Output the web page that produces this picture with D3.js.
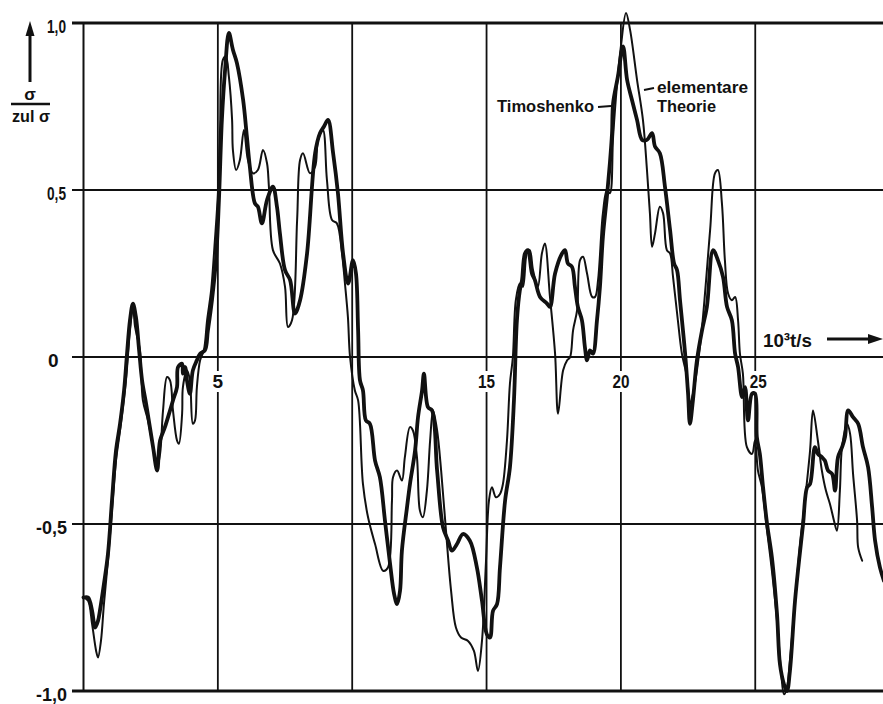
<!DOCTYPE html>
<html>
<head>
<meta charset="utf-8">
<script src="https://cdn.jsdelivr.net/npm/d3@7"></script>
<style>
  html, body { margin: 0; padding: 0; background: #fff; }
  svg { display: block; }
  text { font-family: "Liberation Sans", Arial, sans-serif; font-weight: bold; fill: #111; }
</style>
</head>
<body>
<svg id="chart" width="883" height="704"></svg>
<script>
// Stress ratio sigma / sigma_zul over time (10^3 t/s), two beam theories
const timoshenko = [
  [0.00,-0.72],[0.17,-0.72],[0.32,-0.76],[0.43,-0.81],[0.54,-0.79],[0.61,-0.76],[0.76,-0.68],[0.91,-0.59],
  [1.06,-0.43],[1.21,-0.28],[1.36,-0.20],[1.51,-0.10],[1.62,0.01],[1.73,0.11],[1.84,0.16],[1.95,0.12],
  [2.07,0.02],[2.18,-0.07],[2.33,-0.14],[2.47,-0.21],[2.59,-0.27],[2.74,-0.34],[2.85,-0.25],[3.03,-0.21],
  [3.22,-0.16],[3.33,-0.13],[3.48,-0.09],[3.52,-0.03],[3.67,-0.02],[3.70,-0.05],[3.78,-0.03],[3.85,-0.07],
  [3.96,-0.11],[4.07,-0.04],[4.22,-0.01],[4.34,0.01],[4.52,0.02],[4.63,0.08],[4.78,0.17],[4.93,0.29],
  [5.04,0.47],[5.15,0.71],[5.27,0.86],[5.41,0.97],[5.56,0.92],[5.71,0.88],[5.94,0.77],[6.08,0.66],
  [6.19,0.57],[6.38,0.46],[6.49,0.45],[6.64,0.40],[6.83,0.47],[7.05,0.51],[7.20,0.45],[7.31,0.37],
  [7.50,0.26],[7.69,0.23],[7.87,0.13],[8.06,0.17],[8.32,0.31],[8.62,0.61],[8.80,0.67],[8.95,0.69],
  [9.10,0.71],[9.29,0.61],[9.47,0.49],[9.66,0.31],[9.85,0.22],[10.03,0.29],[10.14,0.25],[10.22,0.08],
  [10.29,-0.07],[10.40,-0.10],[10.51,-0.19],[10.66,-0.20],[10.85,-0.31],[11.03,-0.36],[11.22,-0.49],[11.41,-0.62],
  [11.56,-0.71],[11.67,-0.74],[11.78,-0.70],[11.85,-0.58],[12.04,-0.45],[12.15,-0.38],[12.34,-0.28],[12.45,-0.18],
  [12.60,-0.10],[12.67,-0.05],[12.82,-0.15],[12.97,-0.16],[13.16,-0.34],[13.38,-0.51],[13.57,-0.55],[13.71,-0.58],
  [13.90,-0.56],[14.12,-0.53],[14.38,-0.55],[14.64,-0.63],[14.83,-0.73],[15.01,-0.83],[15.13,-0.84],[15.24,-0.76],
  [15.39,-0.74],[15.50,-0.63],[15.69,-0.43],[15.87,-0.33],[16.02,-0.13],[16.13,0.11],[16.24,0.20],[16.32,0.23],
  [16.43,0.31],[16.54,0.32],[16.69,0.25],[16.80,0.23],[16.99,0.18],[17.25,0.16],[17.36,0.15],[17.55,0.25],
  [17.81,0.31],[17.92,0.32],[18.03,0.28],[18.18,0.27],[18.29,0.21],[18.40,0.15],[18.55,0.11],[18.66,0.03],
  [18.74,-0.01],[18.85,0.02],[18.96,0.01],[19.11,0.11],[19.22,0.21],[19.33,0.36],[19.48,0.48],[19.59,0.58],
  [19.67,0.67],[19.71,0.76],[19.89,0.84],[20.08,0.93],[20.23,0.83],[20.41,0.77],[20.60,0.71],[20.79,0.65],
  [20.97,0.65],[21.16,0.67],[21.27,0.63],[21.45,0.61],[21.64,0.51],[21.83,0.38],[21.98,0.28],[22.09,0.26],
  [22.20,0.17],[22.39,0.01],[22.50,-0.11],[22.57,-0.20],[22.68,-0.13],[22.83,-0.01],[23.02,0.08],[23.20,0.15],
  [23.43,0.32],[23.61,0.29],[23.80,0.24],[23.95,0.15],[24.13,0.11],[24.25,0.01],[24.36,-0.03],[24.51,-0.12],
  [24.62,-0.09],[24.73,-0.19],[24.88,-0.11],[24.99,-0.11],[25.06,-0.24],[25.17,-0.29],[25.29,-0.39],[25.44,-0.50],
  [25.62,-0.60],[25.81,-0.77],[25.92,-0.92],[26.07,-0.98],[26.18,-1.00],[26.29,-0.94],[26.48,-0.73],[26.67,-0.58],
  [26.78,-0.50],[26.93,-0.39],[27.04,-0.38],[27.22,-0.27],[27.33,-0.29],[27.48,-0.30],[27.59,-0.31],[27.71,-0.34],
  [27.86,-0.35],[27.97,-0.40],[28.08,-0.30],[28.23,-0.27],[28.34,-0.24],[28.46,-0.16],[28.64,-0.18],[28.83,-0.20],
  [29.01,-0.27],[29.20,-0.33],[29.35,-0.45],[29.46,-0.55],[29.64,-0.63],[29.79,-0.67]
];

const elementare = [
  [0.00,-0.72],[0.17,-0.73],[0.32,-0.80],[0.47,-0.88],[0.54,-0.90],[0.65,-0.85],[0.76,-0.74],[0.91,-0.61],
  [1.06,-0.46],[1.21,-0.31],[1.36,-0.22],[1.58,-0.07],[1.73,0.08],[1.84,0.15],[1.92,0.09],[2.10,0.02],
  [2.21,-0.13],[2.40,-0.19],[2.59,-0.27],[2.74,-0.33],[2.85,-0.29],[2.96,-0.16],[3.11,-0.06],[3.22,-0.07],
  [3.33,-0.16],[3.48,-0.25],[3.55,-0.26],[3.67,-0.17],[3.70,-0.09],[3.85,-0.04],[3.96,-0.07],[4.07,-0.20],
  [4.15,-0.19],[4.22,-0.09],[4.34,-0.01],[4.48,0.02],[4.60,0.11],[4.75,0.20],[4.89,0.35],[5.01,0.50],
  [5.08,0.68],[5.19,0.89],[5.30,0.90],[5.41,0.84],[5.53,0.71],[5.56,0.62],[5.68,0.56],[5.82,0.59],
  [5.97,0.68],[6.12,0.59],[6.31,0.55],[6.49,0.56],[6.68,0.62],[6.83,0.58],[6.90,0.51],[7.05,0.32],
  [7.31,0.28],[7.50,0.21],[7.61,0.09],[7.76,0.11],[7.95,0.41],[8.06,0.59],[8.17,0.61],[8.43,0.55],
  [8.62,0.57],[8.73,0.65],[8.91,0.68],[9.06,0.53],[9.25,0.41],[9.43,0.40],[9.62,0.31],[9.73,0.22],
  [9.84,0.12],[9.92,0.00],[10.10,-0.10],[10.22,-0.13],[10.40,-0.38],[10.59,-0.48],[10.85,-0.56],[11.15,-0.64],
  [11.33,-0.63],[11.48,-0.43],[11.52,-0.36],[11.67,-0.34],[11.85,-0.37],[11.96,-0.30],[12.15,-0.21],[12.26,-0.22],
  [12.41,-0.30],[12.52,-0.46],[12.63,-0.48],[12.78,-0.40],[12.90,-0.25],[13.01,-0.16],[13.16,-0.22],[13.31,-0.34],
  [13.49,-0.52],[13.68,-0.70],[13.86,-0.81],[14.05,-0.84],[14.31,-0.85],[14.53,-0.88],[14.68,-0.94],[14.83,-0.85],
  [14.98,-0.61],[15.09,-0.43],[15.20,-0.39],[15.35,-0.42],[15.50,-0.41],[15.61,-0.38],[15.76,-0.25],[15.87,-0.08],
  [15.98,0.00],[16.09,0.17],[16.24,0.22],[16.35,0.21],[16.50,0.31],[16.61,0.32],[16.73,0.26],[16.91,0.21],
  [17.06,0.31],[17.17,0.34],[17.36,0.18],[17.55,0.01],[17.66,-0.17],[17.85,-0.04],[18.00,-0.01],[18.11,0.00],
  [18.22,0.08],[18.37,0.14],[18.48,0.29],[18.59,0.30],[18.74,0.25],[18.93,0.18],[19.04,0.18],[19.15,0.23],
  [19.33,0.43],[19.48,0.50],[19.59,0.49],[19.71,0.66],[19.85,0.81],[20.00,0.93],[20.19,1.03],[20.34,0.98],
  [20.60,0.83],[20.82,0.71],[20.97,0.56],[21.08,0.43],[21.16,0.33],[21.27,0.37],[21.45,0.45],[21.57,0.43],
  [21.71,0.32],[21.83,0.31],[21.94,0.24],[22.12,0.11],[22.27,0.01],[22.46,-0.06],[22.57,-0.14],[22.68,-0.11],
  [22.83,-0.04],[23.02,0.09],[23.32,0.38],[23.50,0.55],[23.61,0.56],[23.76,0.46],[23.87,0.29],[23.99,0.19],
  [24.13,0.17],[24.25,0.18],[24.36,0.11],[24.43,0.01],[24.54,-0.05],[24.69,-0.27],[24.88,-0.29],[24.99,-0.25],
  [25.10,-0.34],[25.25,-0.39],[25.44,-0.52],[25.62,-0.64],[25.81,-0.79],[25.96,-0.94],[26.07,-1.01],[26.18,-0.99],
  [26.29,-0.91],[26.48,-0.73],[26.67,-0.56],[26.85,-0.43],[27.04,-0.28],[27.15,-0.16],[27.33,-0.25],[27.48,-0.34],
  [27.63,-0.40],[27.78,-0.44],[27.93,-0.49],[28.04,-0.52],[28.15,-0.40],[28.23,-0.27],[28.42,-0.20],[28.53,-0.23],
  [28.64,-0.35],[28.79,-0.49],[28.83,-0.57],[28.98,-0.61]
];

const xGrid = [5, 10, 15, 20, 25];
const xLabelTicks = [5, 15, 20, 25];
const yGrid = [1, 0.5, 0, -0.5, -1];
const yTickLabels = ["1,0", "0,5", "0", "-0,5", "-1,0"];

const svg = d3.select("#chart");
const ink = "#111";

const x = d3.scaleLinear().domain([0, 30]).range([83.5, 83.5 + 30 * 26.87]);
const y = d3.scaleLinear().domain([-1, 1]).range([691, 23]);
const W = 883;

// narrow lettering: fit each label to its width
function fit(sel, w) {
  if (w) sel.attr("textLength", w).attr("lengthAdjust", "spacingAndGlyphs");
  return sel;
}

// horizontal grid, with short stubs to the left of the frame
svg.append("g").selectAll("line").data(yGrid).join("line")
  .attr("x1", 72).attr("x2", W)
  .attr("y1", d => y(d)).attr("y2", d => y(d))
  .attr("stroke", ink)
  .attr("stroke-width", d => Math.abs(d) === 1 ? 3 : 2);

// left frame and vertical grid
svg.append("line").attr("x1", x(0)).attr("x2", x(0)).attr("y1", y(1)).attr("y2", y(-1))
  .attr("stroke", ink).attr("stroke-width", 2);
svg.append("g").selectAll("line").data(xGrid).join("line")
  .attr("x1", d => x(d)).attr("x2", d => x(d))
  .attr("y1", y(1)).attr("y2", y(-1))
  .attr("stroke", ink).attr("stroke-width", 1.8);

// x tick labels sit on the gridlines just below zero, masking the line
const xl = svg.append("g").selectAll("g").data(xLabelTicks).join("g")
  .attr("transform", d => `translate(${x(d) + (d === 25 ? 3 : 0)},${y(0) + 31})`);
xl.append("rect")
  .attr("x", d => d < 10 ? -6 : -10).attr("y", -17)
  .attr("width", d => d < 10 ? 12 : 20).attr("height", 21)
  .attr("fill", "#fff");
xl.append("text").attr("text-anchor", "middle").attr("font-size", 19)
  .each(function (d) { fit(d3.select(this), d < 10 ? 0 : 17); })
  .text(d => d);

// y tick labels
svg.append("g").selectAll("text").data(yGrid).join("text")
  .attr("x", (d, i) => yTickLabels[i] === "0" ? 48 : (yTickLabels[i].length > 3 ? 36 : 47))
  .attr("y", d => y(d) + 10)
  .attr("font-size", 19)
  .each(function (d, i) {
    const s = yTickLabels[i];
    fit(d3.select(this), s === "0" ? 0 : (s.length > 3 ? 31 : 19));
  })
  .text((d, i) => yTickLabels[i]);

// curves
const line = d3.line().x(d => x(d[0])).y(d => y(d[1])).curve(d3.curveCatmullRom.alpha(0.5));
svg.append("path").datum(elementare).attr("d", line)
  .attr("fill", "none").attr("stroke", ink).attr("stroke-width", 2)
  .attr("stroke-linejoin", "round").attr("stroke-linecap", "round");
svg.append("path").datum(timoshenko).attr("d", line)
  .attr("fill", "none").attr("stroke", ink).attr("stroke-width", 3.8)
  .attr("stroke-linejoin", "round").attr("stroke-linecap", "round");

// curve annotations
fit(svg.append("text").attr("x", 497).attr("y", 112).attr("font-size", 16), 97).text("Timoshenko");
svg.append("line").attr("x1", 598).attr("x2", 611).attr("y1", 107).attr("y2", 106)
  .attr("stroke", ink).attr("stroke-width", 2);
fit(svg.append("text").attr("x", 657).attr("y", 93).attr("font-size", 16), 91).text("elementare");
fit(svg.append("text").attr("x", 657).attr("y", 112).attr("font-size", 16), 59).text("Theorie");
svg.append("line").attr("x1", 644).attr("x2", 654).attr("y1", 90).attr("y2", 88)
  .attr("stroke", ink).attr("stroke-width", 2);

// x axis title with arrow
fit(svg.append("text").attr("x", 763).attr("y", 347).attr("font-size", 19), 49).text("10³t/s");
svg.append("line").attr("x1", 827).attr("x2", 872).attr("y1", 339).attr("y2", 339)
  .attr("stroke", ink).attr("stroke-width", 3);
svg.append("path").attr("d", "M868,334 L883,339 L868,344 Z").attr("fill", ink);

// y axis title: sigma over sigma_zul, with upward arrow
svg.append("line").attr("x1", 30).attr("x2", 30).attr("y1", 82).attr("y2", 32)
  .attr("stroke", ink).attr("stroke-width", 3);
svg.append("path").attr("d", "M25.5,36 L30,21 L34.5,36 Z").attr("fill", ink);
svg.append("text").attr("x", 30).attr("y", 100).attr("text-anchor", "middle").attr("font-size", 17).text("σ");
svg.append("line").attr("x1", 11).attr("x2", 50).attr("y1", 104).attr("y2", 104)
  .attr("stroke", ink).attr("stroke-width", 2.4);
fit(svg.append("text").attr("x", 12).attr("y", 122).attr("font-size", 17), 38).text("zul σ");
</script>
</body>
</html>
